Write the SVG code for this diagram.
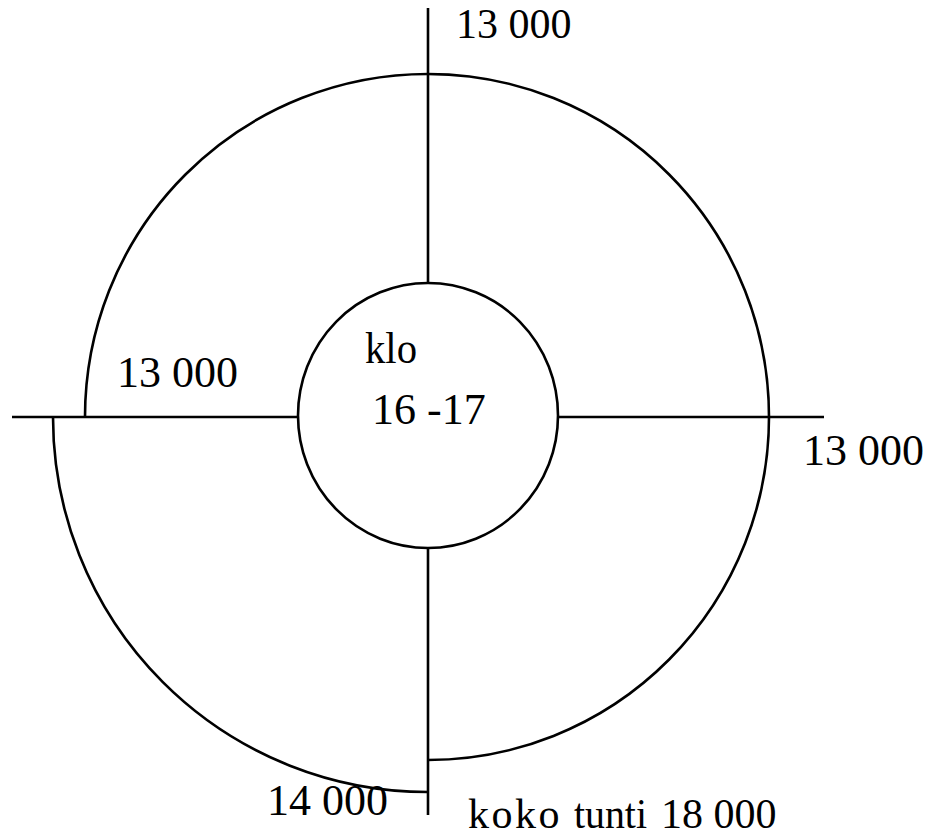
<svg xmlns="http://www.w3.org/2000/svg" width="930" height="837" viewBox="0 0 930 837">
<style>
.ln{fill:none;stroke:#000;stroke-width:2.6;stroke-linecap:butt}
.t{font-family:"Liberation Serif","Times New Roman",serif;font-size:44px;fill:#000}
.s{font-size:42px}
</style>
<rect width="930" height="837" fill="#fff"/>
<g id="connectors">
<line class="ln" x1="12" y1="417" x2="298" y2="417"/>
<line class="ln" x1="558" y1="417" x2="824" y2="417"/>
<line class="ln" x1="428" y1="8" x2="428" y2="283"/>
<line class="ln" x1="428" y1="548" x2="428" y2="815"/>
</g>
<g id="ring">
<path class="ln" d="M85 417 A343 343 0 0 1 428 74"/>
<path class="ln" d="M428 74 A341 343 0 0 1 769 417"/>
<path class="ln" d="M769 417 A341 343 0 0 1 428 760"/>
<path class="ln" d="M53 417 A375 375 0 0 0 428 792"/>
</g>
<g id="center">
<ellipse class="ln" cx="428" cy="415.5" rx="130" ry="132.5"/>
<text class="t" x="365" y="363" textLength="52" lengthAdjust="spacingAndGlyphs">klo</text>
<text class="t" x="372" y="424">16 -17</text>
</g>
<g id="labels">
<text class="t s" x="456" y="38">13 000</text>
<text class="t" x="117" y="387">13 000</text>
<text class="t" x="803" y="465">13 000</text>
<text class="t" x="267" y="815">14 000</text>
<text class="t s" x="468" y="828" letter-spacing="2.5">koko</text>
<text class="t s" x="574" y="828" textLength="73" lengthAdjust="spacingAndGlyphs">tunti</text>
<text class="t s" x="661" y="828">18 000</text>
</g>
</svg>
